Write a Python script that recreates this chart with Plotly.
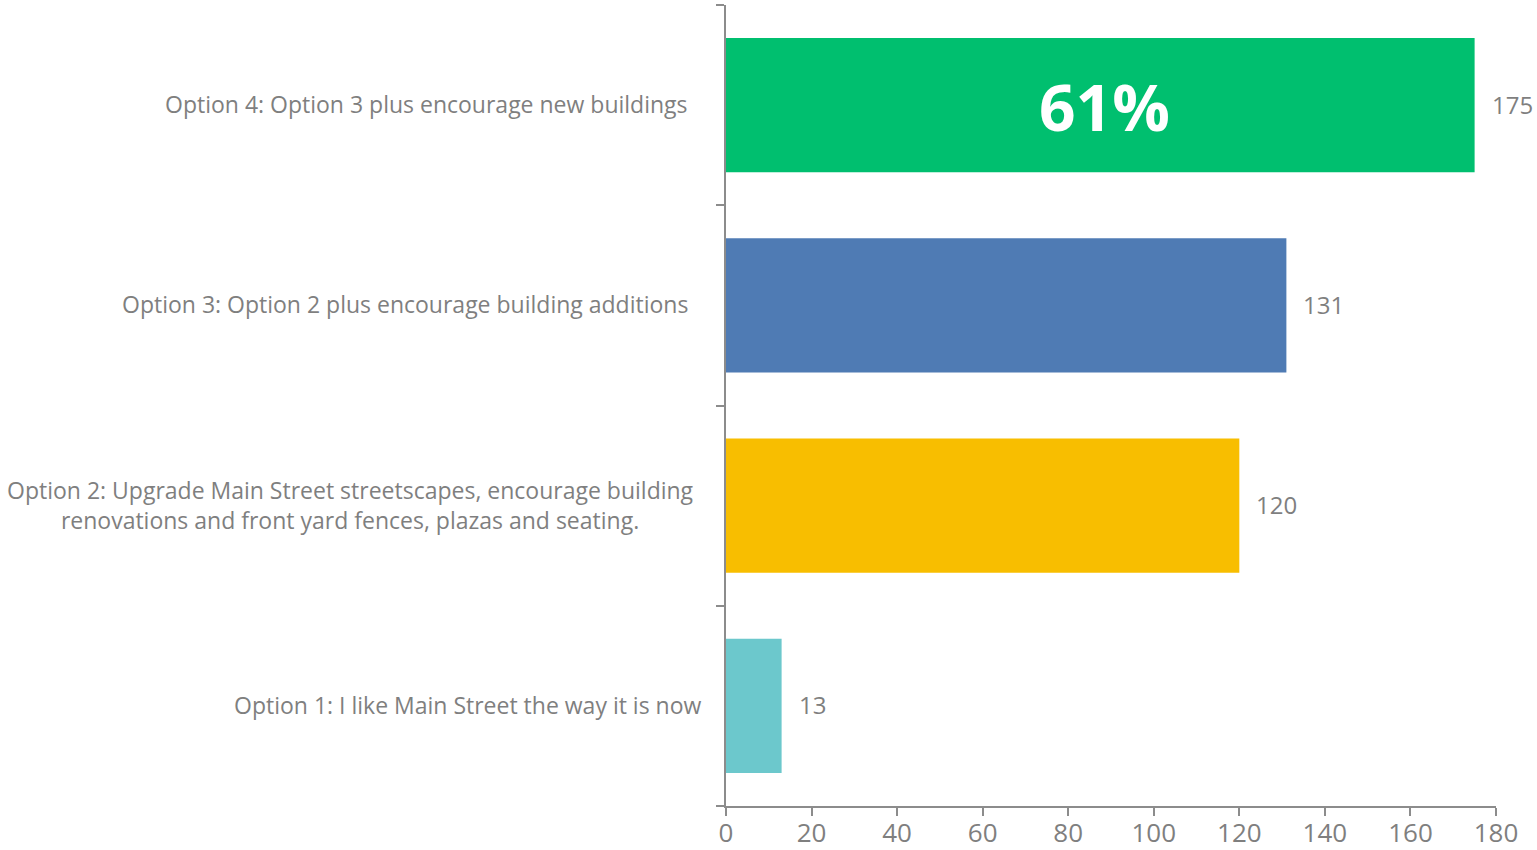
import plotly.graph_objects as go

# Survey options, bottom to top
categories = [
    "Option 1: I like Main Street the way it is now",
    "Option 2: Upgrade Main Street streetscapes, encourage building<br>renovations and front yard fences, plazas and seating.",
    "Option 3: Option 2 plus encourage building additions",
    "Option 4: Option 3 plus encourage new buildings",
]
votes = [13, 120, 131, 175]
bar_colors = ["#6CC8CC", "#F8BE00", "#4F7BB4", "#00BF6F"]
label_right_edge = [-22, -30, -36, -36]  # pixel offset of label right edge from the axis
highlight_text = "61%"
highlight_index = 3

x_ticks = list(range(0, 181, 20))

GREY = "#7F7F7F"
AXIS = "#8C8C8C"
FONT = "'Open Sans', Lato, sans-serif"

fig = go.Figure()
fig.add_trace(go.Bar(
    y=list(range(len(categories))),
    x=votes,
    orientation="h",
    marker=dict(color=bar_colors, line=dict(width=0)),
    width=0.67,
    hoverinfo="skip",
))

annotations = []
for i, (cat, v) in enumerate(zip(categories, votes)):
    # value label just past the bar end
    annotations.append(dict(
        x=v, y=i, xref="x", yref="y", text=str(v), showarrow=False,
        xanchor="left", yanchor="middle", xshift=15, yshift=1,
        font=dict(family=FONT, size=24, color=GREY),
    ))
    # category label left of the axis
    annotations.append(dict(
        x=0, y=i, xref="x", yref="y", text=cat, showarrow=False,
        xanchor="right", yanchor="middle", align="center",
        xshift=label_right_edge[i], yshift=1,
        font=dict(family=FONT, size=23, color=GREY),
    ))

annotations.append(dict(
    x=votes[highlight_index] / 2, y=highlight_index, xref="x", yref="y",
    text="<b>" + highlight_text + "</b>", showarrow=False,
    xanchor="center", yanchor="middle", xshift=4, yshift=-1,
    font=dict(family=FONT, size=64, color="white"),
))

fig.update_layout(
    width=1537, height=850,
    margin=dict(l=726, r=41, t=5, b=44),
    paper_bgcolor="white", plot_bgcolor="white",
    showlegend=False,
    annotations=annotations,
    xaxis=dict(
        range=[0, 180], tickvals=x_ticks, ticktext=[str(t) for t in x_ticks],
        showgrid=False, zeroline=False, automargin=False,
        showline=True, linecolor=AXIS, linewidth=1.5,
        ticks="outside", ticklen=8, tickcolor=AXIS, tickwidth=1.5,
        ticklabelstandoff=-5,
        tickfont=dict(family=FONT, size=26, color=GREY),
        fixedrange=True,
    ),
    yaxis=dict(
        range=[-0.5, 3.5], tickvals=[-0.5, 0.5, 1.5, 2.5, 3.5], ticktext=[""] * 5,
        showgrid=False, zeroline=False, automargin=False,
        showline=True, linecolor=AXIS, linewidth=1.5,
        ticks="outside", ticklen=8, tickcolor=AXIS, tickwidth=1.5,
        fixedrange=True,
    ),
)

fig.write_html("out.html")
